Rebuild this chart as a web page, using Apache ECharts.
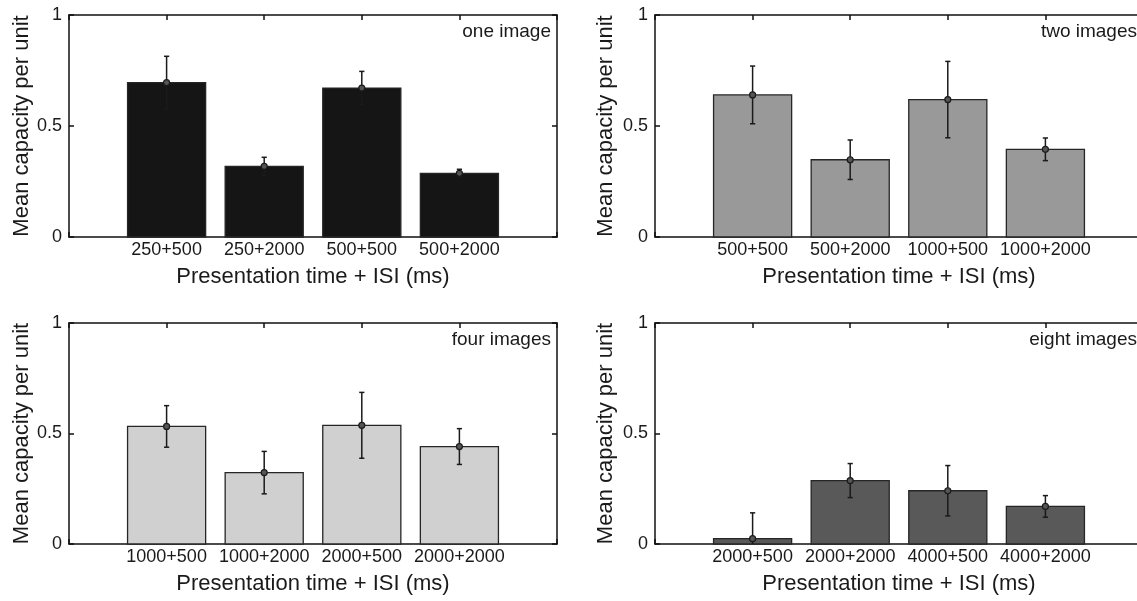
<!DOCTYPE html>
<html>
<head>
<meta charset="utf-8">
<script src="https://cdn.jsdelivr.net/npm/echarts@6/dist/echarts.min.js"></script>
<style>
html,body{margin:0;padding:0;background:#fff;}
#chart{width:1137px;height:601px;}
</style>
</head>
<body>
<div id="chart"></div>
<script>
// ---- data ----
const catsOne = ['250+500', '250+2000', '500+500', '500+2000'];
const meanOne = [0.695, 0.318, 0.671, 0.287];
const errOne  = [0.119, 0.041, 0.075, 0.018];

const catsTwo = ['500+500', '500+2000', '1000+500', '1000+2000'];
const meanTwo = [0.640, 0.348, 0.619, 0.395];
const errTwo  = [0.130, 0.089, 0.172, 0.051];

const catsFour = ['1000+500', '1000+2000', '2000+500', '2000+2000'];
const meanFour = [0.532, 0.323, 0.537, 0.441];
const errFour  = [0.094, 0.096, 0.149, 0.081];

const catsEight = ['2000+500', '2000+2000', '4000+500', '4000+2000'];
const meanEight = [0.024, 0.287, 0.241, 0.170];
const errEight  = [0.117, 0.077, 0.114, 0.049];

const panelLabels = ['one image', 'two images', 'four images', 'eight images'];
const yTickLabels = ['0', '0.5', '1'];
const xAxisTitle = 'Presentation time + ISI (ms)';
const yAxisTitle = 'Mean capacity per unit';

// ---- layout / style ----
const FONT = '"Liberation Sans", Arial, Helvetica, sans-serif';
const TXT = '#1a1a1a';
const panels = [
  {cats: catsOne,   means: meanOne,   errs: errOne,   color: '#151515', grid: {left: 69,  top: 15,  width: 488, height: 222}, labelRight: 586, labelTop: 22, yGap: 33},
  {cats: catsTwo,   means: meanTwo,   errs: errTwo,   color: '#999999', grid: {left: 655, top: 15,  width: 488, height: 222}, labelRight: 0,   labelTop: 22, yGap: 38},
  {cats: catsFour,  means: meanFour,  errs: errFour,  color: '#d0d0d0', grid: {left: 69,  top: 323, width: 488, height: 221}, labelRight: 586, labelTop: 330, yGap: 33},
  {cats: catsEight, means: meanEight, errs: errEight, color: '#595959', grid: {left: 655, top: 323, width: 488, height: 221}, labelRight: 0,   labelTop: 330, yGap: 38}
];

const axisLineStyle = {color: '#111', width: 1.5};
const option = {
  animation: false,
  backgroundColor: '#fff',
  textStyle: {fontFamily: FONT},
  grid: [], xAxis: [], yAxis: [], series: [], title: []
};

panels.forEach((p, i) => {
  option.grid.push(Object.assign({containLabel: false, outerBoundsMode: 'none'}, p.grid));
  // bottom x axis
  option.xAxis.push({
    gridIndex: i, type: 'value', min: 0, max: 5, interval: 1, position: 'bottom',
    axisLine: {show: true, onZero: false, lineStyle: axisLineStyle},
    axisTick: {show: true, inside: true, length: 5, lineStyle: axisLineStyle},
    axisLabel: {formatter: v => p.cats[v - 1] || '', fontSize: 18, color: TXT, margin: 4, fontFamily: FONT},
    splitLine: {show: false},
    name: xAxisTitle, nameLocation: 'middle', nameGap: 29,
    nameTextStyle: {fontSize: 22, color: TXT, fontFamily: FONT}
  });
  // top x axis (frame)
  option.xAxis.push({
    gridIndex: i, type: 'value', min: 0, max: 5, interval: 1, position: 'top',
    axisLine: {show: true, onZero: false, lineStyle: axisLineStyle},
    axisTick: {show: true, inside: true, length: 5, lineStyle: axisLineStyle},
    axisLabel: {show: false}, splitLine: {show: false}
  });
  // left y axis
  option.yAxis.push({
    gridIndex: i, type: 'value', min: 0, max: 1, interval: 0.5, position: 'left',
    axisLine: {show: true, onZero: false, lineStyle: axisLineStyle},
    axisTick: {show: true, inside: true, length: 5, lineStyle: axisLineStyle},
    axisLabel: {formatter: v => yTickLabels[Math.round(v * 2)], fontSize: 18, color: TXT, margin: 7, fontFamily: FONT},
    splitLine: {show: false},
    name: yAxisTitle, nameLocation: 'middle', nameRotate: 90, nameGap: p.yGap,
    nameTextStyle: {fontSize: 22, color: TXT, fontFamily: FONT}
  });
  // right y axis (frame)
  option.yAxis.push({
    gridIndex: i, type: 'value', min: 0, max: 1, interval: 0.5, position: 'right',
    axisLine: {show: true, onZero: false, lineStyle: axisLineStyle},
    axisTick: {show: true, inside: true, length: 5, lineStyle: axisLineStyle},
    axisLabel: {show: false}, splitLine: {show: false}
  });

  const xi = i * 2, yi = i * 2;
  // bars
  option.series.push({
    type: 'custom', xAxisIndex: xi, yAxisIndex: yi, z: 2,
    data: p.means.map((m, k) => [k + 1, m]),
    encode: {x: 0, y: 1},
    renderItem: (params, api) => {
      const x = api.value(0), y = api.value(1);
      const a = api.coord([x - 0.4, y]);
      const b = api.coord([x + 0.4, 0]);
      return {type: 'rect', shape: {x: a[0], y: a[1], width: b[0] - a[0], height: b[1] - a[1]},
        style: {fill: p.color, stroke: '#262626', lineWidth: 1.3}};
    }
  });
  // error bars
  option.series.push({
    type: 'custom', xAxisIndex: xi, yAxisIndex: yi, z: 3, clip: true,
    data: p.means.map((m, k) => [k + 1, m, m - p.errs[k], m + p.errs[k]]),
    encode: {x: 0, y: [1, 2, 3]},
    renderItem: (params, api) => {
      const x = api.value(0);
      const c = api.coord([x, api.value(1)]);
      const lo = api.coord([x, api.value(2)]);
      const hi = api.coord([x, api.value(3)]);
      const cw = 2.6;
      const ls = {stroke: '#1a1a1a', lineWidth: 1.5};
      return {type: 'group', children: [
        {type: 'line', shape: {x1: c[0], y1: lo[1], x2: c[0], y2: hi[1]}, style: ls},
        {type: 'line', shape: {x1: c[0] - cw, y1: lo[1], x2: c[0] + cw, y2: lo[1]}, style: ls},
        {type: 'line', shape: {x1: c[0] - cw, y1: hi[1], x2: c[0] + cw, y2: hi[1]}, style: ls},
        {type: 'circle', shape: {cx: c[0], cy: c[1], r: 3}, style: {fill: '#555', stroke: '#1a1a1a', lineWidth: 1.2}}
      ]};
    }
  });

  option.title.push({
    text: panelLabels[i], right: p.labelRight, top: p.labelTop, padding: 0,
    textStyle: {fontSize: 19, fontWeight: 'normal', color: TXT, fontFamily: FONT}
  });
});

const chart = echarts.init(document.getElementById('chart'), null, {renderer: 'canvas'});
chart.setOption(option);
</script>
</body>
</html>
